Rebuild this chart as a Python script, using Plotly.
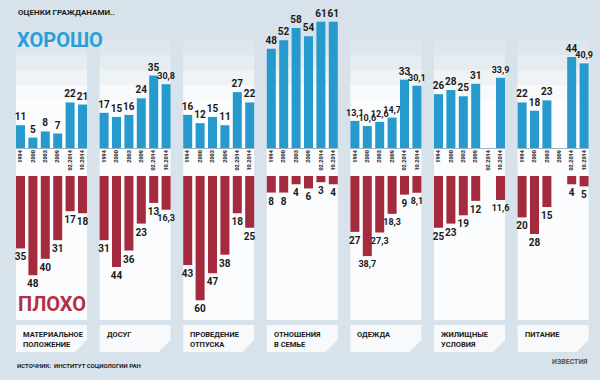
import plotly.graph_objects as go

categories = ["МАТЕРИАЛЬНОЕ<br>ПОЛОЖЕНИЕ", "ДОСУГ", "ПРОВЕДЕНИЕ<br>ОТПУСКА", "ОТНОШЕНИЯ<br>В СЕМЬЕ",
              "ОДЕЖДА", "ЖИЛИЩНЫЕ<br>УСЛОВИЯ", "ПИТАНИЕ"]
years = ["1994", "2000", "2003", "2009", "02.2014", "10.2014"]

good = [
    [11, 5, 8, 7, 22, 21],
    [17, 15, 16, 24, 35, 30.8],
    [16, 12, 15, 11, 27, 22],
    [48, 52, 58, 54, 61, 61],
    [13.1, 10.6, 12.6, 14.7, 33, 30.1],
    [26, 28, 25, 31, None, 33.9],
    [22, 18, 23, None, 44, 40.9],
]
bad = [
    [35, 48, 40, 31, 17, 18],
    [31, 44, 36, 23, 13, 16.3],
    [43, 60, 47, 38, 18, 25],
    [8, 8, 4, 6, 3, 4],
    [27, 38.7, 27.3, 18.3, 9, 8.1],
    [25, 23, 19, 12, None, 11.6],
    [20, 28, 15, None, 4, 5],
]

W, H = 600, 380
BG = "#d7e2ea"
BLUE = "#2699cd"
RED = "#a42b3d"
FONT = "Roboto, sans-serif"

# layout geometry (pixels)
X0, GSTEP, BSTEP, BW = 20.5, 83.6, 12.4, 9
GOOD_BASE, BAD_BASE, PXU = 148, 176, 2.07


def fnt(size, color="#1b1b1b"):
    return dict(family=FONT, size=size, color=color, weight="bold")


def fmt(v):
    if v is None:
        return ""
    return ("%g" % v).replace(".", ",")


def lsize(v):
    return 9 if (v is not None and v != int(v)) else 10


xs, gy, by, gt, bt, gs, bs, ticks, ticklabels = [], [], [], [], [], [], [], [], []
for g in range(len(categories)):
    for i in range(len(years)):
        x = X0 + g * GSTEP + i * BSTEP
        xs.append(x)
        gy.append(good[g][i])
        by.append(bad[g][i])
        gt.append(fmt(good[g][i]))
        bt.append(fmt(bad[g][i]))
        gs.append(lsize(good[g][i]))
        bs.append(lsize(bad[g][i]))
        ticks.append(x)
        ticklabels.append(years[i])

fig = go.Figure()
fig.add_trace(go.Bar(x=xs, y=gy, text=gt, textposition="outside", width=BW,
                     marker=dict(color=BLUE, line=dict(width=0)), constraintext="none",
                     cliponaxis=False,
                     textfont=dict(family=FONT, size=gs, color="#1b1b1b", weight="bold"),
                     xaxis="x", yaxis="y"))
fig.add_trace(go.Bar(x=xs, y=by, text=bt, textposition="outside", width=BW,
                     marker=dict(color=RED, line=dict(width=0)), constraintext="none",
                     cliponaxis=False,
                     textfont=dict(family=FONT, size=bs, color="#1b1b1b", weight="bold"),
                     xaxis="x2", yaxis="y2"))


def py(p):
    return (H - p) / H


shapes = []
for g in range(len(categories)):
    left = X0 + g * GSTEP - BW / 2
    right = X0 + g * GSTEP + 5 * BSTEP + BW / 2
    for top, op in [(40, 0.18), (55, 0.25), (70, 0.35), (85, 0.5)]:
        shapes.append(dict(type="rect", xref="x", yref="paper", x0=left, x1=right,
                           y0=py(100), y1=py(top), fillcolor="white", opacity=op,
                           line=dict(width=0), layer="below"))
    shapes.append(dict(type="rect", xref="x", yref="paper", x0=left, x1=right,
                       y0=py(320), y1=py(100), fillcolor="#fbfcfd",
                       line=dict(width=0), layer="below"))
    path = "M %f,%f L %f,%f L %f,%f L %f,%f L %f,%f Z" % (
        left, py(325), right, py(325), right, py(340), right - 12, py(352), left, py(352))
    shapes.append(dict(type="path", xref="x", yref="paper", path=path,
                       fillcolor="#f7f9fa", line=dict(width=0), layer="below"))
    shapes.append(dict(type="line", xref="x", yref="paper", x0=left, x1=right,
                       y0=py(GOOD_BASE + 0.5), y1=py(GOOD_BASE + 0.5),
                       line=dict(color="#9bb4c4", width=1)))

annotations = [
    dict(text="ОЦЕНКИ ГРАЖДАНАМИ..", x=16, y=py(13), xref="x", yref="paper",
         xanchor="left", yanchor="middle", showarrow=False, font=fnt(8)),
    dict(text="ХОРОШО", x=15, y=py(40), xref="x", yref="paper",
         xanchor="left", yanchor="middle", showarrow=False, font=fnt(20, "#2a9fd6")),
    dict(text="ПЛОХО", x=16, y=py(304), xref="x", yref="paper",
         xanchor="left", yanchor="middle", showarrow=False, font=fnt(20, "#b3303f")),
    dict(text="ИСТОЧНИК:  ИНСТИТУТ СОЦИОЛОГИИ РАН", x=15, y=py(365), xref="x", yref="paper",
         xanchor="left", yanchor="middle", showarrow=False, font=fnt(6)),
    dict(text="ИЗВЕСТИЯ", x=590, y=py(362), xref="x", yref="paper",
         xanchor="right", yanchor="middle", showarrow=False, font=fnt(7, "#555555")),
]
for g, c in enumerate(categories):
    left = X0 + g * GSTEP - BW / 2
    annotations.append(dict(text=c, x=left + 5, y=py(328), xref="x", yref="paper",
                            xanchor="left", yanchor="top", align="left", showarrow=False,
                            font=fnt(7.5)))

top_dom = [(H - GOOD_BASE) / H, 1]
bot_dom = [0, (H - BAD_BASE) / H]
fig.update_layout(
    width=W, height=H, margin=dict(l=0, r=0, t=0, b=0),
    paper_bgcolor=BG, plot_bgcolor="rgba(0,0,0,0)", showlegend=False, barmode="overlay",
    xaxis=dict(range=[0, W], domain=[0, 1], anchor="y", showgrid=False, zeroline=False,
               tickmode="array", tickvals=ticks, ticktext=ticklabels, tickangle=-90,
               ticks="", ticklen=0, tickfont=fnt(5.5)),
    xaxis2=dict(range=[0, W], domain=[0, 1], anchor="y2", showgrid=False, zeroline=False,
                showticklabels=False),
    yaxis=dict(domain=top_dom, range=[0, GOOD_BASE / PXU], visible=False),
    yaxis2=dict(domain=bot_dom, range=[(H - BAD_BASE) / PXU, 0], visible=False),
    shapes=shapes, annotations=annotations,
)
fig.write_html("out.html", config={"displayModeBar": False},
               post_script="document.body.style.margin='0';")
